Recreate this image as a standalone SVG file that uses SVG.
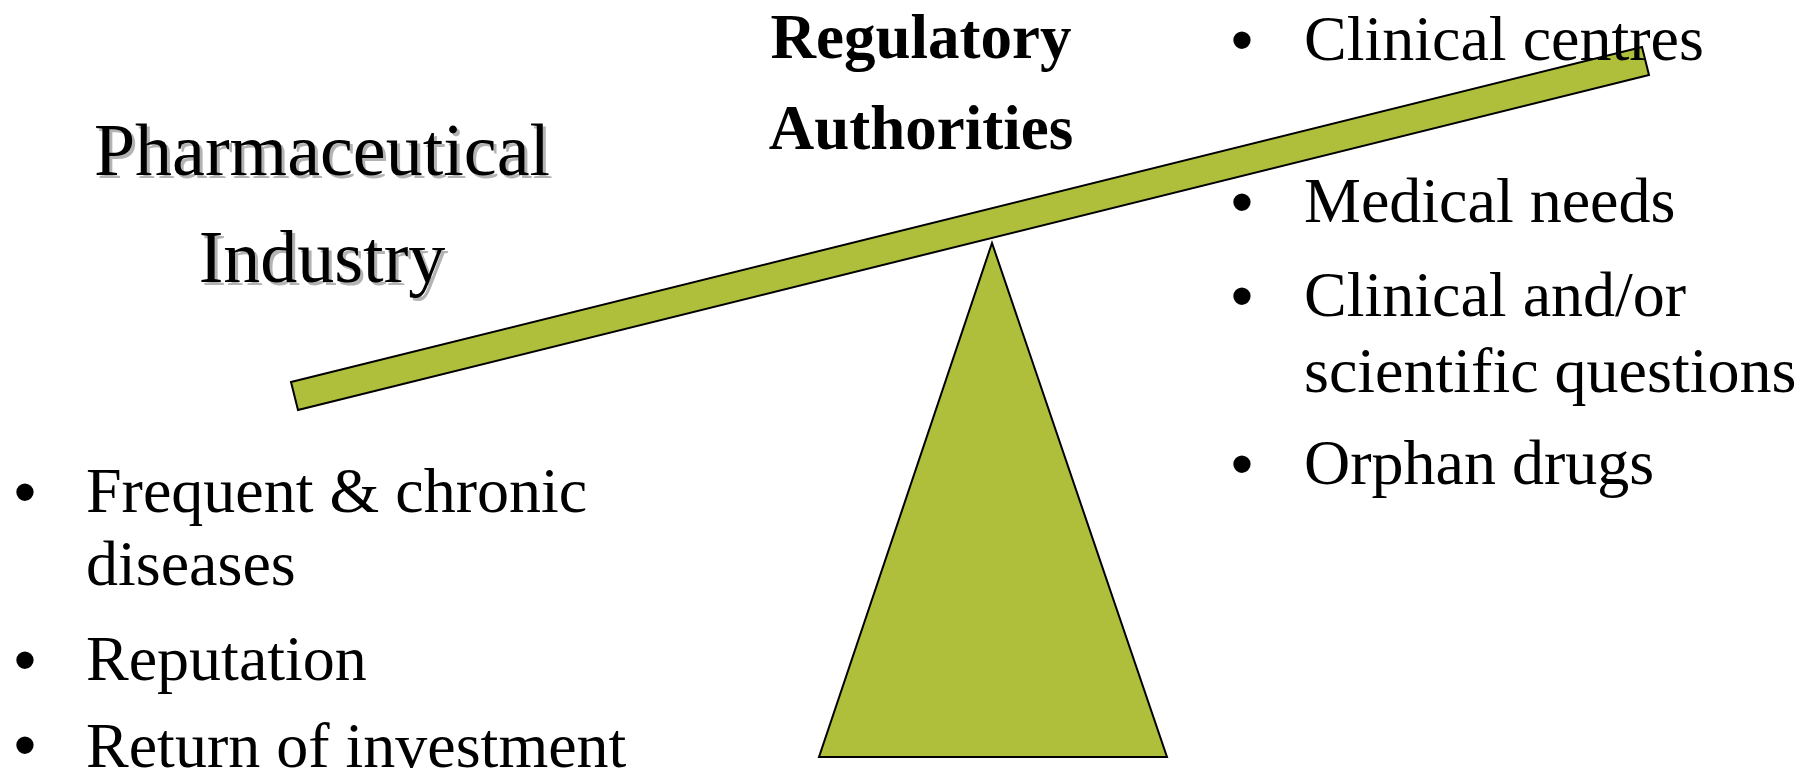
<svg xmlns="http://www.w3.org/2000/svg" width="1806" height="778" viewBox="0 0 1806 778">
<style>
.shape{fill:#AFBF3B;stroke:#000;stroke-width:2;stroke-linejoin:miter}
.t{font-family:"Liberation Serif","Times New Roman",serif;font-size:64px;fill:#000}
.bu{font-family:"Liberation Sans",Arial,sans-serif;font-size:64px;fill:#000;text-anchor:middle}
.b{font-family:"Liberation Serif","Times New Roman",serif;font-size:63px;font-weight:bold;fill:#000}
.h{font-family:"Liberation Serif","Times New Roman",serif;font-size:74px;text-anchor:middle}
</style>
<rect width="1806" height="778" fill="#fff"/>
<g id="fulcrum">
<polygon class="shape" points="992,243 1167,757 819,757"/>
</g>
<g id="beam">
<polygon class="shape" points="291,382 1642,47 1649,75 298,410"/>
</g>
<g id="pharma">
<text class="h" x="325" y="178" fill="#b3b3b3">Pharmaceutical</text>
<text class="h" x="325" y="285" fill="#b3b3b3">Industry</text>
<text class="h" x="322" y="175" fill="#000">Pharmaceutical</text>
<text class="h" x="322" y="282" fill="#000">Industry</text>
</g>
<g id="regulatory">
<text class="b" x="921" y="58" text-anchor="middle">Regulatory</text>
<text class="b" x="921" y="149" text-anchor="middle">Authorities</text>
</g>
<g id="right-list">
<text class="bu" x="1242" y="62">•</text><text class="t" x="1304" y="60">Clinical centres</text>
<text class="bu" x="1242" y="224">•</text><text class="t" x="1304" y="222">Medical needs</text>
<text class="bu" x="1242" y="318">•</text><text class="t" x="1304" y="316">Clinical and/or</text>
<text class="t" x="1304" y="392">scientific questions</text>
<text class="bu" x="1242" y="486">•</text><text class="t" x="1304" y="484">Orphan drugs</text>
</g>
<g id="left-list">
<text class="bu" x="25" y="514">•</text><text class="t" x="86" y="512">Frequent &amp; chronic</text>
<text class="t" x="86" y="585">diseases</text>
<text class="bu" x="25" y="682">•</text><text class="t" x="86" y="680">Reputation</text>
<text class="bu" x="25" y="767">•</text><text class="t" x="86" y="767">Return of investment</text>
</g>
<g id="connectors"></g>
</svg>
